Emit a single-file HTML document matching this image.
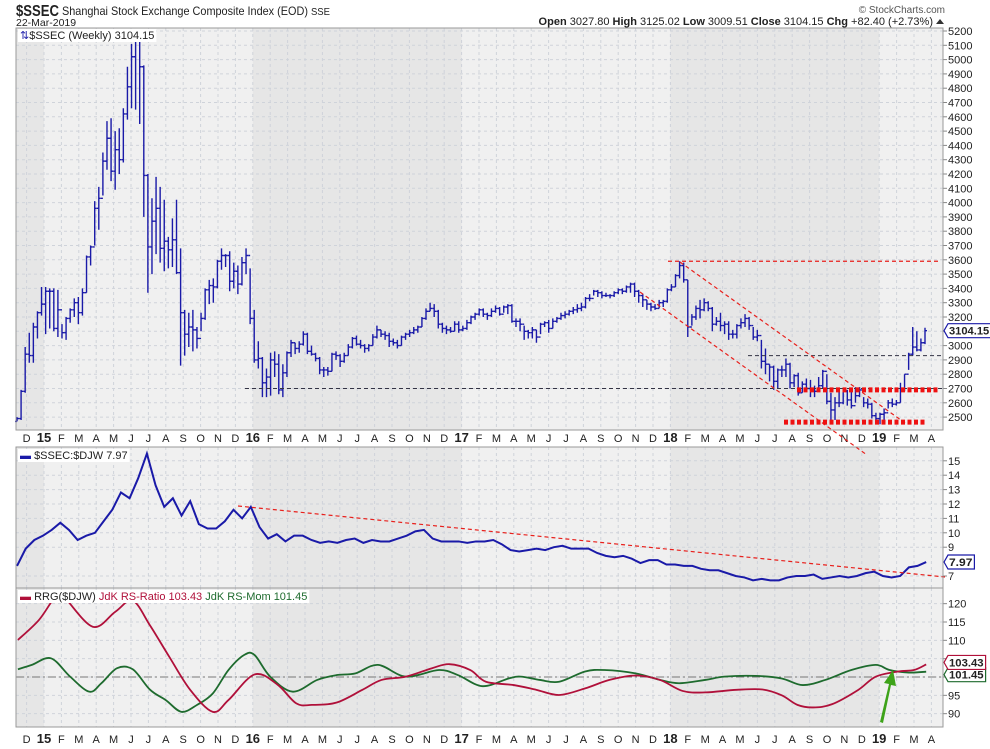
<!DOCTYPE html>
<html><head><meta charset="utf-8"><style>
body{margin:0;background:#fff;font-family:"Liberation Sans",sans-serif}
svg text{font-family:"Liberation Sans",sans-serif}
</style></head><body>
<svg id="c" width="990" height="744" viewBox="0 0 990 744" xmlns="http://www.w3.org/2000/svg">
<defs><clipPath id="cp3"><rect x="16" y="588" width="927" height="139"/></clipPath></defs>
<text x="16" y="16" font-size="16" font-weight="bold" fill="#222" textLength="43" lengthAdjust="spacingAndGlyphs">$SSEC</text>
<text x="62" y="15" font-size="12" fill="#222" textLength="268" lengthAdjust="spacingAndGlyphs">Shanghai Stock Exchange Composite Index (EOD) <tspan font-size="10.5">SSE</tspan></text>
<text x="16" y="26" font-size="10.5" fill="#222">22-Mar-2019</text>
<text x="945" y="13" font-size="10" fill="#555" text-anchor="end">© StockCharts.com</text>
<text x="933" y="25" font-size="11" fill="#222" text-anchor="end"><tspan font-weight="bold">Open</tspan> 3027.80  <tspan font-weight="bold">High</tspan> 3125.02  <tspan font-weight="bold">Low</tspan> 3009.51  <tspan font-weight="bold">Close</tspan> 3104.15  <tspan font-weight="bold">Chg</tspan> +82.40 (+2.73%)</text>
<path d="M936 24 L940 19 L944 24Z" fill="#333"/>
<g id="g"></g>
</svg>
<script>
// ---------- data ----------
const priceTicks=[2500,2600,2700,2800,2900,3000,3100,3200,3300,3400,3500,3600,3700,3800,3900,4000,4100,4200,4300,4400,4500,4600,4700,4800,4900,5000,5100,5200];
const ratioTicks=[7,9,10,11,12,13,14,15];
const rrgTicks=[90,95,100,105,110,115,120];
const monthLabels=["D","15","F","M","A","M","J","J","A","S","O","N","D","16","F","M","A","M","J","J","A","S","O","N","D","17","F","M","A","M","J","J","A","S","O","N","D","18","F","M","A","M","J","J","A","S","O","N","D","19","F","M","A"];
const hi=[2500,2690, 2990,3090,3160,3240, 3410,3410,3400,3400,3390, 3150,3200,3260,3330, 3340,3400,3630,3700, 4010,4110,4350,4570, 4590,4500,4520,4660,4950, 5110,5180,5180,4960, 4200,4030,4180,4110,4020, 3760,3890,4020,3680, 3250,3230,3250,3130, 3230,3400,3460,3470, 3600,3680,3640,3660, 3580,3560,3620,3680,
3540,3250,3030,2920, 2840,2950,2960,2940, 2870,2960,3040,3020, 3030,3100,3090,3000, 2950,2920,2850,2850, 2950,2960,2940,2950, 3010,3060,3070,3040,3010, 3010,3080,3140,3110, 3100,3090,3050,3040, 3070,3090,3110,3130, 3140,3200,3260,3300, 3290,3250,3160,3140,3130,
3170,3170,3140,3180, 3210,3230,3260,3260, 3230,3260,3280,3270,3280, 3290,3290,3190,3190, 3140,3110,3130,3110, 3160,3170,3180,3190,3200, 3230,3240,3250,3270, 3290,3300,3340,3360, 3390,3390,3380,3370,3360, 3380,3400,3400,3420, 3440,3440,3390,3360, 3320,3300,3290,3320,3320,
3400,3430,3500,3590, 3580,3460,3220,3280, 3320,3330,3310,3270,3200, 3230,3170,3170,3110, 3150,3190,3220,3200, 3130,3110,3040,2980,2870, 2860,2840,2860,2910, 2880,2800,2810,2750,2770, 2760,2720,2780,2830, 2800,2670,2640,2680, 2690,2690,2700,2710,2710, 2640,2630,2600,2530,
2530,2560,2620,2630, 2620,2740,2800,2950, 3130,3100,3050,3125];
const lo=[2470,2480, 2670,2880,2880,3050, 3210,3080,3120,3100,3060, 3050,3040,3160,3200, 3150,3210,3370,3560, 3700,3810,4050,4230, 4150,4090,4200,4280,4580, 4660,4650,4550,3900, 3370,3500,3640,3580,3520, 3540,3550,3500,2860, 2930,2990,2960,2980, 3100,3180,3290,3300, 3400,3530,3550,3380, 3400,3360,3420,3500,
3150,2880,2840,2640, 2640,2650,2780,2660, 2640,2780,2920,2940, 2950,3000,2940,2930, 2890,2800,2780,2790, 2820,2900,2850,2880, 2930,2980,3000,2980,2950, 2960,3000,3050,3060, 3040,2990,3000,2980, 3000,3040,3060,3080, 3090,3130,3180,3240, 3200,3120,3090,3080,3090,
3100,3090,3100,3110, 3150,3180,3210,3200, 3180,3200,3230,3210,3230, 3220,3160,3130,3100, 3040,3050,3050,3020, 3080,3130,3090,3120,3160, 3180,3190,3210,3220, 3230,3240,3260,3310, 3350,3340,3330,3340,3330, 3340,3360,3360,3370, 3370,3340,3300,3270, 3250,3240,3250,3260,3270,
3300,3380,3410,3470, 3440,3060,3140,3180, 3190,3240,3240,3100,3140, 3100,3080,3040,3050, 3050,3120,3130,3110, 3040,3030,2840,2800,2750, 2690,2700,2780,2780, 2700,2710,2650,2670,2680, 2640,2640,2690,2700, 2590,2450,2480,2570, 2590,2580,2560,2600,2640, 2570,2560,2490,2460,
2450,2480,2560,2570, 2580,2600,2680,2830, 2930,2960,2960,3010];
const cl=[2490,2680, 2940,2930,3130,3230, 3290,3380,3380,3120,3250, 3090,3190,3250,3300, 3230,3370,3620,3690, 3960,4030,4290,4450, 4220,4370,4300,4620,4810, 5020,5140,4950,4190, 3690,3870,3960,3680,3730, 3670,3740,3510,3230, 3080,3130,3110,3050, 3190,3390,3420,3410, 3590,3630,3630,3450, 3520,3430,3580,3630,
3190,2900,2910,2740, 2780,2900,2870,2690, 2810,2950,3020,2980, 3010,3080,2960,2940, 2910,2830,2830,2820, 2940,2930,2890,2930, 2990,3050,3010,3000,2980, 3000,3060,3110,3080, 3070,3030,3020,3000, 3060,3080,3090,3110, 3130,3190,3240,3260, 3240,3150,3120,3110,3100,
3150,3110,3120,3160, 3200,3220,3250,3220, 3210,3240,3260,3220,3270, 3280,3170,3170,3150, 3100,3090,3110,3060, 3150,3160,3120,3170,3190, 3210,3220,3240,3250, 3260,3270,3330,3330, 3380,3370,3350,3350,3350, 3370,3390,3380,3410, 3430,3380,3350,3320, 3290,3270,3260,3300,3310,
3390,3410,3490,3560, 3460,3130,3200,3260, 3250,3300,3260,3150,3170, 3140,3150,3080,3080, 3140,3160,3190,3140, 3060,3070,2890,2870,2850, 2750,2830,2830,2870, 2740,2790,2670,2730,2700, 2700,2680,2720,2820, 2610,2550,2600,2600, 2680,2620,2580,2650,2690, 2600,2590,2510,2490,
2520,2530,2600,2590, 2600,2680,2800,2940, 2990,2970,3020,3104.15];
const ratioVals=[7.7,8.9,9.5,9.8,10.2,10.7,10.2,9.5,9.8,10.0,10.8,11.6,12.8,12.4,13.8,15.5,13.3,11.8,12.4,11.2,12.2,10.6,10.3,10.3,10.8,11.6,11.0,11.8,
10.4,9.6,9.9,9.4,9.8,9.8,9.5,9.3,9.4,9.3,9.5,9.6,9.3,9.5,9.4,9.4,9.6,9.8,10.1,10.2,9.6,9.4,9.4,9.4,
9.3,9.4,9.4,9.5,9.2,8.8,8.7,8.8,8.9,8.8,9.0,9.1,8.9,8.9,8.9,8.6,8.4,8.3,8.4,8.2,7.9,8.1,8.1,7.8,
7.8,7.7,7.7,7.5,7.4,7.4,7.2,7.0,6.9,6.7,6.8,6.7,6.7,6.9,7.0,7.0,7.1,6.8,6.9,7.0,6.9,7.0,7.2,7.3,
7.0,6.9,7.0,7.6,7.7,7.97];
const ratioMonths0=-1.55, ratioMonths1=50.7;
const rsRatioMonths=[-1.5,-0.3,0.6,1.1,2.8,4.1,5.1,6.1,7.2,8.4,9.7,10.6,12.1,13.4,14.5,15.4,16.8,18.3,19.4,20.8,22.3,23.3,24.5,25.4,27.0,28.3,29.6,31.1,32.5,34.0,35.4,36.7,38.0,39.8,41.3,42.4,43.3,44.2,45.3,46.8,47.8,49.1,50.0,50.7];
const rsRatioVals=[110.1,115.5,121.5,122,113.7,117.8,120.8,114,105.5,96.5,90.5,93.7,100.7,98,92.8,92.4,93,96.5,99.2,100.1,102.4,103.5,101.9,98.7,97.8,96.5,95.1,96.9,99.2,100.4,99.2,96.2,95.8,96.5,96.6,95,92.4,91.7,92.6,96.5,100.1,101.5,101.9,103.43];
const rsMomMonths=[-1.5,-0.7,0.4,1.5,2.6,3.3,4.2,5.1,6.1,7.0,7.9,8.8,9.7,10.6,11.5,12.1,13.0,14.3,15.7,16.8,17.9,19.2,20.8,22.7,23.8,25.2,26.7,27.4,28.5,29.6,31.1,32.2,34.0,35.4,36.5,38.0,39.1,40.9,42.4,43.6,44.9,46.4,47.8,48.6,49.7,50.7];
const rsMomVals=[102.1,103.3,105.1,100.1,96,98.3,102.4,102.1,96.5,93.7,90.5,92.4,95.5,101.9,106,106,100.1,96,99.2,100.5,101,103.3,100.1,101.9,100.5,97.5,99.6,100.1,99.2,98.7,101.5,101.9,101,99.2,98.3,99.2,100.1,100.3,99.6,97.8,99.2,101.9,103.3,101.9,101.2,101.45];

// ---------- geometry ----------
const NS='http://www.w3.org/2000/svg', G=document.getElementById('g');
const L=16,R=943;
const P1={t:28,b:430},P2={t:447,b:588},P3={t:588,b:727};
const xM=m=>44+m*17.4;
const yP=v=>31+(5200-v)*0.143;
const yR=v=>576-(v-7)*14.4;
const yS=v=>677-(v-100)*3.667;
const xBar=i=>17+i*(925-17)/(cl.length-1);
const xRatio=i=>xM(ratioMonths0+i*(ratioMonths1-ratioMonths0)/(ratioVals.length-1));
function mk(tag,attrs,parent){const e=document.createElementNS(NS,tag);for(const k in attrs)e.setAttribute(k,attrs[k]);(parent||G).appendChild(e);return e;}
function txt(x,y,s,attrs){const e=mk('text',Object.assign({x:x,y:y,'font-size':11,fill:'#222'},attrs||{}));e.textContent=s;return e;}

// panels
[[P1,'price-panel'],[P2,'ratio-panel'],[P3,'rrg-panel']].forEach(([p,n])=>{
  const r=mk('rect',{x:L,y:p.t,width:R-L,height:p.b-p.t,fill:'#f0f0f0'});
  
  
  [[L,xM(0)],[xM(12),xM(24)],[xM(36),xM(48)]].forEach(([a,b])=>{
    const s=mk('rect',{x:a,y:p.t,width:b-a,height:p.b-p.t,fill:'#e6e6e6'});
    
    
  });
  for(let m=-1;m<=51;m++){const x=xM(m);if(x<L||x>R)continue;
    const gl=mk('line',{x1:x,x2:x,y1:p.t,y2:p.b,stroke:'#cfd3da','stroke-dasharray':'3,3','stroke-width':1});
    
    
  }
});
function hgrid(ticks,yf,p,name){ticks.forEach(v=>{const y=yf(v);
  const l=mk('line',{x1:L,x2:R,y1:y,y2:y,stroke:'#cfd3da','stroke-dasharray':'3,3'});
  
  
  mk('line',{x1:R,x2:R+4,y1:y,y2:y,stroke:'#888'});
  const t=txt(R+5,y+4,String(v),{'font-size':11});
  
  
});}
hgrid(priceTicks,yP,P1,'price-tick-label');
hgrid(ratioTicks,yR,P2,'ratio-tick-label');
hgrid(rrgTicks,yS,P3,'rrg-tick-label');

// x labels
[[442,'x-axis-label-top'],[743,'x-axis-label-bottom']].forEach(([y,n])=>{
  monthLabels.forEach((s,i)=>{const x=xM(i-1); if(x>R)return;
    const big=s.length===2;
    const t=txt(x,y,s,{'font-size':big?13:11,'font-weight':big?'bold':'normal','text-anchor':'middle'});
    
    
  });
});

// price bars
const barG=mk('g',{stroke:'#1a1aa8','stroke-width':1.4,fill:'none'});


cl.forEach((c,i)=>{const x=xBar(i);const o=i?cl[i-1]:lo[0];
  const b=mk('path',{d:`M${x},${yP(hi[i])}V${yP(lo[i])}M${x-2},${yP(o)}H${x}M${x},${yP(c)}H${x+2}`},barG);
  
  
});

// annotations main
function ln(x1,y1,x2,y2,st,name){const l=mk('line',Object.assign({x1,y1,x2,y2},st));}
const red={stroke:'#e8201c','stroke-width':1.2,'stroke-dasharray':'4,3'};
const dk={stroke:'#334','stroke-width':1,'stroke-dasharray':'4,3'};
ln(668,yP(3590),940,yP(3590),red,'resistance-line-3590');
ln(748,yP(2930),943,yP(2930),dk,'resistance-line-2930');
ln(245,yP(2700),943,yP(2700),dk,'support-line-2700');
ln(680,262,905,423,red,'channel-upper-line');
ln(640,292,867,455,red,'channel-lower-line');
const thick={stroke:'#ee1111','stroke-width':5,'stroke-dasharray':'4,2.5'};
ln(797,yP(2690),938,yP(2690),thick,'support-zone-2690');
ln(784,yP(2465),925,yP(2465),thick,'support-zone-2465');

// ratio line
const rp=ratioVals.map((v,i)=>`${xRatio(i)},${yR(v)}`).join(' ');
const rl=mk('polyline',{points:rp,fill:'none',stroke:'#1a1aa8','stroke-width':2});


ln(238,506,945,577,red,'ratio-trendline');

// rrg
ln(L,yS(100),R,yS(100),{stroke:'#777','stroke-dasharray':'8,3,2,3'},'rrg-100-line');
function smooth(ms,vs){const p=ms.map((m,i)=>[xM(m),yS(vs[i])]);let d=`M${p[0]}`;
  for(let i=0;i<p.length-1;i++){const p0=p[i-1]||p[i],p1=p[i],p2=p[i+1],p3=p[i+2]||p2;
    d+=`C${p1[0]+(p2[0]-p0[0])/6},${p1[1]+(p2[1]-p0[1])/6} ${p2[0]-(p3[0]-p1[0])/6},${p2[1]-(p3[1]-p1[1])/6} ${p2[0]},${p2[1]}`;}
  return d;}
const gm=mk('path',{d:smooth(rsMomMonths,rsMomVals),fill:'none',stroke:'#1e6b2e','stroke-width':1.8,'clip-path':'url(#cp3)'});


const rr=mk('path',{d:smooth(rsRatioMonths,rsRatioVals),fill:'none',stroke:'#b0103a','stroke-width':1.8,'clip-path':'url(#cp3)'});


const ar=mk('path',{d:'M880,722 L889,684 L884,683 L893,670 L896,686 L891,685 L883,723Z',fill:'#3ea31a'});



// value tags
function tag(y,s,col,name){const g=mk('g',{});
  const w=s.length*5.6+4;
  mk('path',{d:`M${R+1},${y} L${R+5},${y-7} H${R+5+w} V${y+7} H${R+5} Z`,fill:'#fff',stroke:col,'stroke-width':1.2},g);
  const t=txt(R+6,y+4,s,{'font-size':11,'font-weight':'bold',fill:'#222',textLength:w-3,lengthAdjust:'spacingAndGlyphs'});g.appendChild(t);}
tag(yP(3104.15),'3104.15','#1a1aa8','price-value-tag');
tag(yR(7.97),'7.97','#1a1aa8','ratio-value-tag');
tag(yS(101.45)+3,'101.45','#1e6b2e','rs-mom-value-tag');
tag(yS(103.43)-2,'103.43','#b0103a','rs-ratio-value-tag');

// borders
[P1,P2,P3].forEach(p=>{const b=mk('rect',{x:L,y:p.t,width:R-L,height:p.b-p.t,fill:'none',stroke:'#999'});
  
  });

// legends
function leg(x,y,parts,name){const bg=mk('rect',{x:x-2,y:y-10,width:0,height:13,fill:'#fff'});const t=mk('text',{x:x,y:y,'font-size':11});
  parts.forEach(([s,c])=>{const ts=mk('tspan',{fill:c},t);ts.textContent=s;});
  
  bg.setAttribute('width',t.getComputedTextLength()+4);}
leg(20,39,[['⇅','#1a1aa8'],['$SSEC (Weekly) 3104.15','#222']],'price-legend');
leg(20,459,[['▬ ','#1a1aa8'],['$SSEC:$DJW 7.97','#222']],'ratio-legend');
leg(20,600,[['▬ ','#b0103a'],['RRG($DJW) ','#222'],['JdK RS-Ratio 103.43 ','#b0103a'],['JdK RS-Mom 101.45','#1e6b2e']],'rrg-legend');
</script>
</body></html>
